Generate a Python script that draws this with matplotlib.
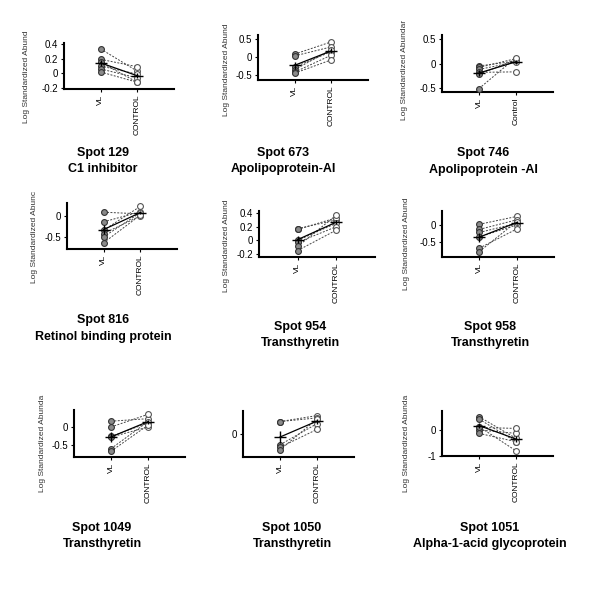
import matplotlib.pyplot as plt
import numpy as np

plt.rcParams['font.family'] = ['Liberation Sans', 'DejaVu Sans']

W, H = 594, 612

# data per spot: paired VL / control values (log standardized abundance)
spot_names = ['Spot 129', 'Spot 673', 'Spot 746', 'Spot 816', 'Spot 954',
              'Spot 958', 'Spot 1049', 'Spot 1050', 'Spot 1051']
proteins = ['C1 inhibitor', 'Apolipoprotein-AI', 'Apolipoprotein -AI',
            'Retinol binding protein', 'Transthyretin', 'Transthyretin',
            'Transthyretin', 'Transthyretin', 'Alpha-1-acid glycoprotein']
vl_vals = [
    [0.33, 0.19, 0.15, 0.10, 0.06, 0.02],
    [0.08, 0.03, -0.28, -0.35, -0.42, -0.45],
    [-0.05, -0.08, -0.12, -0.18, -0.22, -0.51],
    [0.09, -0.14, -0.34, -0.42, -0.50, -0.64],
    [0.17, 0.16, 0.00, -0.03, -0.09, -0.15],
    [0.02, -0.13, -0.22, -0.35, -0.68, -0.78],
    [0.16, 0.00, -0.26, -0.28, -0.60, -0.67],
    [0.54, 0.54, -0.47, -0.58, -0.69],
    [0.51, 0.42, 0.13, 0.00, -0.13, 0.10],
]
ctrl_vals = [
    [0.03, 0.09, -0.12, -0.01, -0.06, -0.12],
    [0.42, 0.28, 0.15, 0.20, 0.05, -0.08],
    [0.05, 0.10, 0.03, -0.17, 0.08, 0.12],
    [0.05, 0.10, 0.23, 0.00, 0.08, 0.02],
    [0.30, 0.33, 0.25, 0.20, 0.37, 0.15],
    [0.25, 0.15, 0.05, 0.00, -0.12, 0.10],
    [0.23, 0.35, 0.11, 0.00, 0.15, 0.05],
    [0.80, 0.70, 0.45, 0.20, 0.65],
    [-0.32, -0.45, -0.80, -0.13, -0.45, 0.06],
]
ylims = [(-0.21, 0.41), (-0.64, 0.61), (-0.58, 0.58), (-0.79, 0.31), (-0.245, 0.43),
         (-0.94, 0.41), (-0.83, 0.47), (-1.0, 1.0), (-1.0, 0.73)]
yticks = [[-0.2, 0, 0.2, 0.4], [-0.5, 0, 0.5], [-0.5, 0, 0.5], [-0.5, 0], [-0.2, 0, 0.2, 0.4],
          [-0.5, 0], [-0.5, 0], [0], [-1, 0]]
ytick_labels = [['-0.2', '0', '0.2', '0.4'], ['-0.5', '0', '0.5'], ['-0.5', '0', '0.5'],
                ['-0.5', '0'], ['-0.2', '0', '0.2', '0.4'], ['-0.5', '0'], ['-0.5', '0'],
                ['0'], ['-1', '0']]
ctrl_names = ['CONTROL', 'CONTROL', 'Control', 'CONTROL', 'CONTROL', 'CONTROL',
              'CONTROL', 'CONTROL', 'CONTROL']
ylabels = ['Log Standardized Abund', 'Log Standardized Abund', 'Log Standardized Abundar',
           'Log Standardized Abunc', 'Log Standardized Abund', 'Log Standardized Abund',
           'Log Standardized Abunda', None, 'Log Standardized Abunda']

# layout in pixels
ax_px = [(64, 43, 174, 89), (258, 35, 368, 80), (442, 35, 553, 92),
         (67, 203, 177, 249), (259, 211, 375, 257), (442, 211, 554, 257),
         (74, 410, 185, 457), (243, 411, 354, 457), (442, 411, 553, 456)]
title_px = [(103, 153, 169), (283, 153, 169), (483, 153, 170),
            (103, 320, 337), (300, 327, 343), (490, 327, 343),
            (102, 528, 544), (292, 528, 544), (490, 528, 544)]
ylab_px = [(27, 123), (227, 116), (404, 120), (35, 283), (226, 292), (407, 290),
           (43, 492), None, (407, 492)]

fig = plt.figure(figsize=(W / 100, H / 100), dpi=100)

for i in range(9):
    x0, y0, x1, y1 = ax_px[i]
    ax = fig.add_axes([x0 / W, 1 - y1 / H, (x1 - x0) / W, (y1 - y0) / H])
    vl = np.array(vl_vals[i])
    ct = np.array(ctrl_vals[i])
    for a, b in zip(vl, ct):
        ax.plot([1, 2], [a, b], color='#444444', lw=0.7, ls=(0, (2, 1.5)), zorder=1)
    ax.plot(np.ones_like(vl), vl, 'o', ms=4.2, mfc='#8a8a8a', mec='#333333', mew=0.8, zorder=3)
    ax.plot(np.full_like(ct, 2), ct, 'o', ms=4.2, mfc='white', mec='#555555', mew=0.8, zorder=3)
    means = [vl.mean(), ct.mean()]
    sems = [vl.std(ddof=1) / np.sqrt(len(vl)), ct.std(ddof=1) / np.sqrt(len(ct))]
    ax.errorbar([1, 2], means, yerr=sems, color='black', lw=0.9, marker='_', ms=9,
                mew=1.0, elinewidth=1.0, capsize=0, zorder=4)
    ax.set_xlim(0, 3)
    ax.set_ylim(*ylims[i])
    ax.set_xticks([1, 2])
    ax.set_xticklabels(['VL', ctrl_names[i]], rotation=90, fontsize=6)
    ax.set_yticks(yticks[i])
    ax.set_yticklabels(ytick_labels[i], fontsize=7)
    ax.tick_params(length=2, width=0.8, pad=2)
    for s in ['top', 'right']:
        ax.spines[s].set_visible(False)
    for s in ['left', 'bottom']:
        ax.spines[s].set_linewidth(1.5)
    ax.set_facecolor('none')

    tx, ty1, ty2 = title_px[i]
    fig.text(tx / W, 1 - ty1 / H, spot_names[i], ha='center', va='center',
             fontsize=9, fontweight='bold')
    fig.text(tx / W, 1 - ty2 / H, proteins[i], ha='center', va='center',
             fontsize=9, fontweight='bold')
    if ylabels[i]:
        lx, ly = ylab_px[i]
        fig.text(lx / W, 1 - ly / H, ylabels[i], rotation=90, ha='center', va='bottom',
                 fontsize=6, color='#333333')

fig.savefig('out.png', dpi=100)
